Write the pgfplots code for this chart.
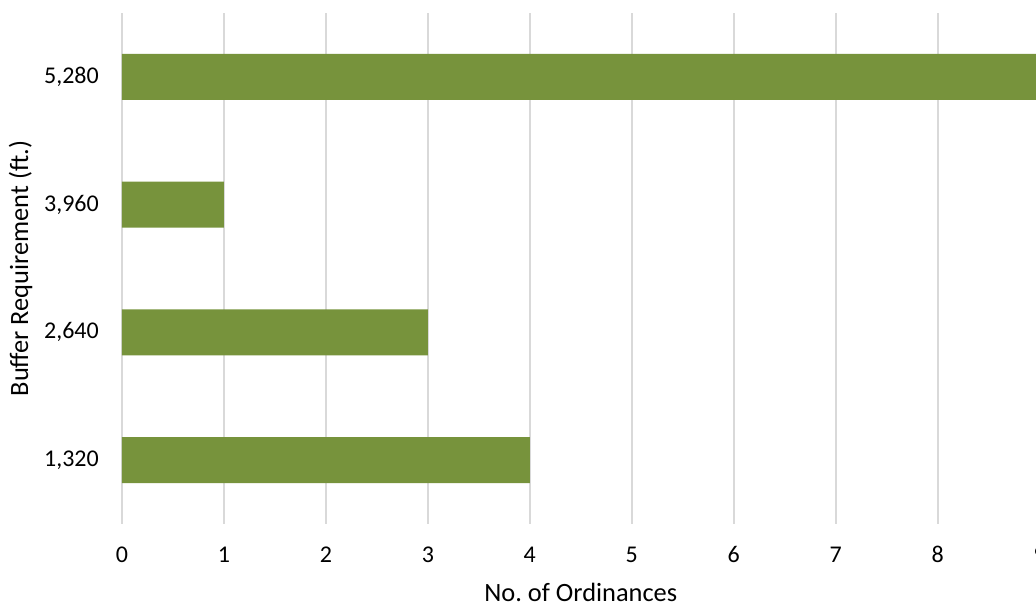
\documentclass[border=0pt]{standalone}
\usepackage{fontspec}
\setmainfont{Carlito}
\usepackage{pgfplots}
\pgfplotsset{compat=1.18}
\definecolor{barolive}{HTML}{77933C}
\definecolor{gridgray}{HTML}{D9D9D9}
\begin{document}
\frenchspacing
\begin{tikzpicture}
\begin{axis}[
  xbar,
  scale only axis,
  width=688.2pt,
  height=383.25pt,
  xmin=0, xmax=9,
  ymin=-0.5, ymax=3.5,
  xtick={0,1,...,9},
  ytick={0,1,2,3},
  yticklabels={{1,320},{2,640},{3,960},{5,280}},
  axis line style={draw=none},
  major tick length=0pt,
  xmajorgrids,
  grid style={gridgray, line width=1.3pt},
  /pgf/number format/assume math mode=true,
  ticklabel style={font=\fontsize{18}{21}\selectfont},
  xticklabel style={anchor=base, inner sep=0pt, yshift=-29.25pt},
  yticklabel style={anchor=east, inner sep=0pt, xshift=-17.25pt},
  every axis x label/.style={at={(axis description cs:0.5,-0.1526)}, anchor=base,
    font=\fontsize{19.8}{24}\selectfont},
  every axis y label/.style={at={(axis description cs:-0.1022,0.5)}, rotate=90, anchor=base,
    font=\fontsize{19.8}{24}\selectfont},
  xlabel={No.\ of Ordinances},
  ylabel={Buffer Requirement (ft.)},
  bar width=0.36,
]
\addplot[fill=barolive, draw=none] coordinates {(4,0) (3,1) (1,2) (9,3)};
\end{axis}
\pgfresetboundingbox
\useasboundingbox (-91.5pt,-62.25pt) rectangle (685.5pt,393pt);
\end{tikzpicture}
\end{document}
